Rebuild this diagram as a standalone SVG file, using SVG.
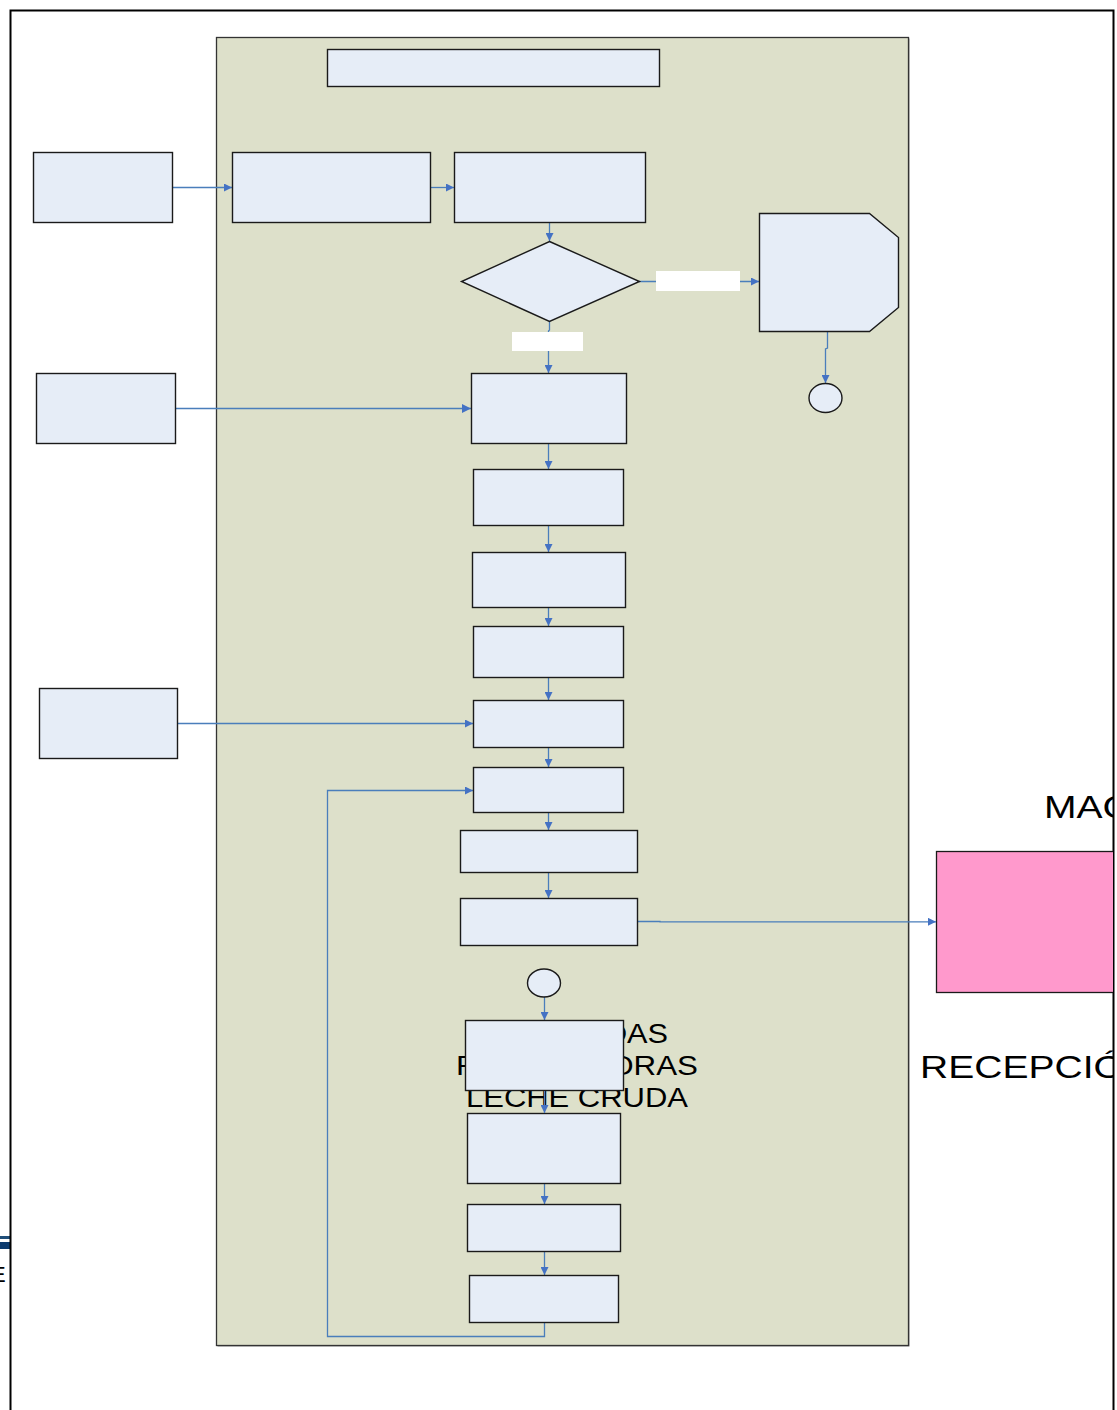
<svg xmlns="http://www.w3.org/2000/svg" width="1117" height="1410" viewBox="0 0 1117 1410">
  <style>
    .box { fill: #E6EDF7; stroke: #1a1a1a; stroke-width: 1.4; }
    .conn { fill: none; stroke: #4A7EBB; stroke-width: 1.3; }
    .lbl { fill: #ffffff; stroke: none; }
    .big { font-family: "Liberation Sans", Arial, sans-serif; fill: #000; }
  </style>
  <defs>
    <marker id="arr" viewBox="0 0 10 10" refX="10" refY="5" markerWidth="9" markerHeight="8" markerUnits="userSpaceOnUse" orient="auto">
      <path d="M0,0 L10,5 L0,10 z" fill="#4472C4"/>
    </marker>
    <marker id="arrL" viewBox="0 0 10 10" refX="10" refY="5" markerWidth="11" markerHeight="9" markerUnits="userSpaceOnUse" orient="auto">
      <path d="M0,0 L10,5 L0,10 z" fill="#4472C4"/>
    </marker>
    <clipPath id="frameClip">
      <rect x="0" y="0" width="1113" height="1410"/>
    </clipPath>
  </defs>

  <rect x="0" y="0" width="1117" height="1410" fill="#ffffff"/>

  <!-- left page fragment -->
  <g id="fragment">
    <rect x="0" y="1236" width="10" height="3" fill="#1F4E79"/>
    <rect x="0" y="1242" width="10" height="7" fill="#0B3A6E"/>
    <text x="-9" y="1282" class="big" font-size="22">E</text>
  </g>

  <!-- outer frame -->
  <rect x="10.5" y="10.5" width="1103" height="1500" fill="none" stroke="#000" stroke-width="2"/>

  <!-- container -->
  <g id="container">
    <rect x="217.5" y="38.5" width="692" height="1308" fill="#8c8c8c"/>
    <rect x="216.5" y="37.5" width="692" height="1308" fill="#DDE0CA" stroke="#333" stroke-width="1.3"/>
  </g>

  <!-- label text partly behind box K -->
  <g id="label-haciendas" class="big" font-size="27">
    <text x="489" y="1043" textLength="179" lengthAdjust="spacingAndGlyphs">HACIENDAS</text>
    <text x="456" y="1075" textLength="242" lengthAdjust="spacingAndGlyphs">PROVEEDORAS</text>
    <text x="466" y="1107" textLength="222" lengthAdjust="spacingAndGlyphs">LECHE CRUDA</text>
  </g>

  <!-- right side items, clipped by frame -->
  <g clip-path="url(#frameClip)">
    <text class="big" font-size="32" transform="translate(1044,818) scale(1.22,1)">MAC</text>
    <g id="pink">
      <rect x="936.5" y="851.5" width="190" height="141" fill="#FF99CC" stroke="#1a1a1a" stroke-width="1.3"/>
    </g>
    <text class="big" font-size="32" transform="translate(920,1078) scale(1.22,1)">RECEPCIÓ</text>
  </g>

  <!-- connectors -->
  <g id="connectors">
    <line class="conn" x1="172" y1="187.5" x2="232" y2="187.5" marker-end="url(#arr)"/>
    <line class="conn" x1="430" y1="187.5" x2="454" y2="187.5" marker-end="url(#arr)"/>
    <line class="conn" x1="549.5" y1="222" x2="549.5" y2="241" marker-end="url(#arr)"/>
    <line class="conn" x1="639" y1="281.5" x2="759" y2="281.5" marker-end="url(#arr)"/>
    <polyline class="conn" points="549.5,321 549.5,330 548.5,331 548.5,373" marker-end="url(#arr)"/>
    <polyline class="conn" points="827.5,331 827.5,348 825.5,349 825.5,383" marker-end="url(#arr)"/>
    <line class="conn" x1="175" y1="408.5" x2="471" y2="408.5" marker-end="url(#arrL)"/>
    <line class="conn" x1="548.5" y1="443" x2="548.5" y2="469" marker-end="url(#arr)"/>
    <line class="conn" x1="548.5" y1="525" x2="548.5" y2="552" marker-end="url(#arr)"/>
    <line class="conn" x1="548.5" y1="607" x2="548.5" y2="626" marker-end="url(#arr)"/>
    <line class="conn" x1="548.5" y1="677" x2="548.5" y2="700" marker-end="url(#arr)"/>
    <line class="conn" x1="177" y1="723.5" x2="473" y2="723.5" marker-end="url(#arr)"/>
    <line class="conn" x1="548.5" y1="747" x2="548.5" y2="767" marker-end="url(#arr)"/>
    <line class="conn" x1="548.5" y1="812" x2="548.5" y2="830" marker-end="url(#arr)"/>
    <line class="conn" x1="548.5" y1="872" x2="548.5" y2="898" marker-end="url(#arr)"/>
    <polyline class="conn" points="637,921.5 660,921.5 660,921.8 936,921.8" marker-end="url(#arr)"/>
    <line class="conn" x1="544.5" y1="997" x2="544.5" y2="1020" marker-end="url(#arr)"/>
    <line class="conn" x1="544.5" y1="1183" x2="544.5" y2="1204" marker-end="url(#arr)"/>
    <line class="conn" x1="544.5" y1="1251" x2="544.5" y2="1275" marker-end="url(#arr)"/>
    <polyline class="conn" points="544.5,1322 544.5,1336.5 327.5,1336.5 327.5,790.5 473,790.5" marker-end="url(#arr)"/>
    <rect class="lbl" x="656" y="271" width="84" height="20"/>
    <rect class="lbl" x="512" y="332" width="71" height="19"/>
  </g>

  <!-- nodes -->
  <g id="title"><rect class="box" x="327.5" y="49.5" width="332" height="37"/></g>
  <g id="input1"><rect class="box" x="33.5" y="152.5" width="139" height="70"/></g>
  <g id="stepA"><rect class="box" x="232.5" y="152.5" width="198" height="70"/></g>
  <g id="stepB"><rect class="box" x="454.5" y="152.5" width="191" height="70"/></g>
  <g id="decision"><polygon class="box" points="549.5,241.5 639.5,281.5 549.5,321.5 461.5,281.5"/></g>
  <g id="reject"><polygon class="box" points="759.5,213.5 869.5,213.5 898.5,237.5 898.5,307.5 869.5,331.5 759.5,331.5"/></g>
  <g id="conn-end1"><ellipse class="box" cx="825.5" cy="398" rx="16.5" ry="14.5"/></g>
  <g id="input2"><rect class="box" x="36.5" y="373.5" width="139" height="70"/></g>
  <g id="stepC"><rect class="box" x="471.5" y="373.5" width="155" height="70"/></g>
  <g id="stepD"><rect class="box" x="473.5" y="469.5" width="150" height="56"/></g>
  <g id="stepE"><rect class="box" x="472.5" y="552.5" width="153" height="55"/></g>
  <g id="stepF"><rect class="box" x="473.5" y="626.5" width="150" height="51"/></g>
  <g id="input3"><rect class="box" x="39.5" y="688.5" width="138" height="70"/></g>
  <g id="stepG"><rect class="box" x="473.5" y="700.5" width="150" height="47"/></g>
  <g id="stepH"><rect class="box" x="473.5" y="767.5" width="150" height="45"/></g>
  <g id="stepI"><rect class="box" x="460.5" y="830.5" width="177" height="42"/></g>
  <g id="stepJ"><rect class="box" x="460.5" y="898.5" width="177" height="47"/></g>
  <g id="conn-start"><ellipse class="box" cx="544" cy="983" rx="16.5" ry="14"/></g>
  <g id="stepK"><rect class="box" x="465.5" y="1020.5" width="158" height="70"/></g>
  <g id="stepL"><rect class="box" x="467.5" y="1113.5" width="153" height="70"/></g>
  <g id="stepM"><rect class="box" x="467.5" y="1204.5" width="153" height="47"/></g>
  <g id="stepN"><rect class="box" x="469.5" y="1275.5" width="149" height="47"/></g>

  <!-- connector K to L, drawn above the label text -->
  <g id="connectors-top">
    <line class="conn" x1="544.5" y1="1091" x2="544.5" y2="1113" marker-end="url(#arr)"/>
  </g>
</svg>
